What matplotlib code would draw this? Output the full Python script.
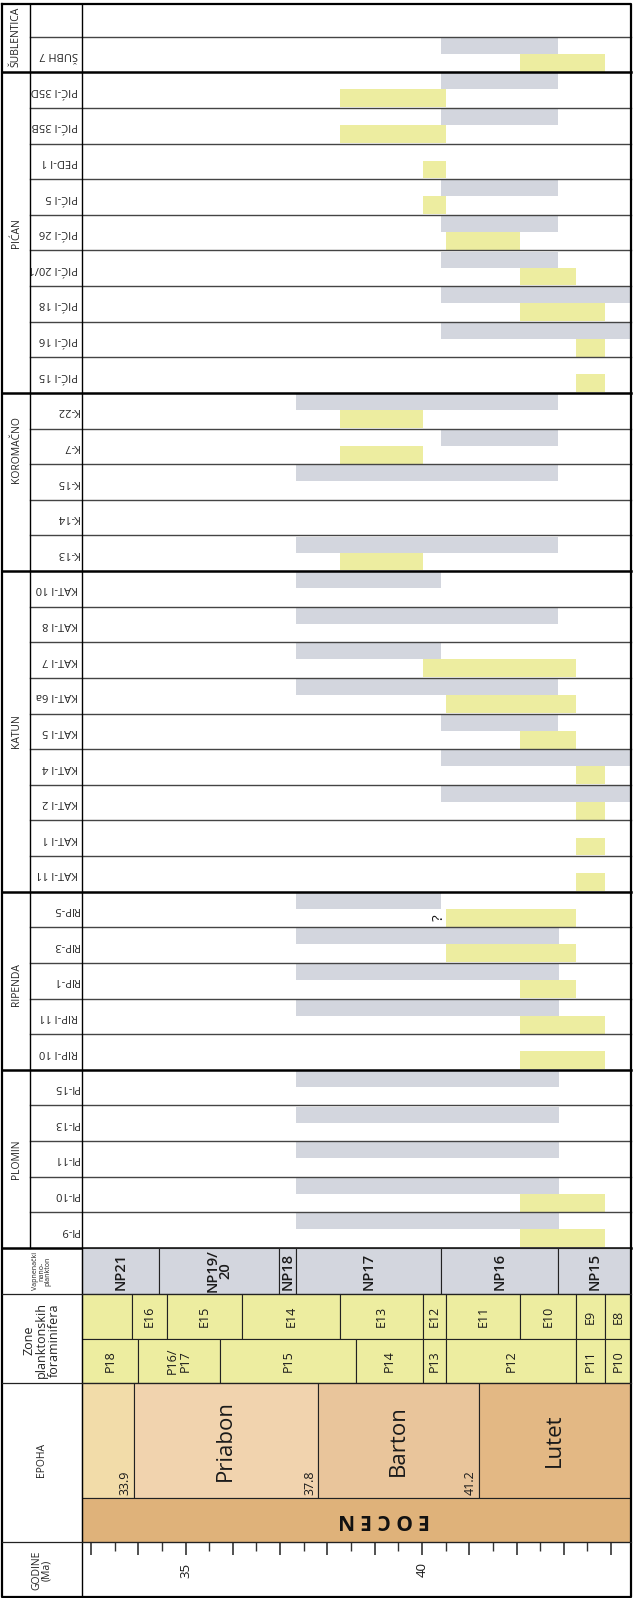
import numpy as np
import matplotlib.pyplot as plt
from matplotlib.transforms import blended_transform_factory

plt.rcParams['font.family'] = ['Open Sans', 'DejaVu Sans']

# === Data ===
groups = ['ŠUBLENTICA', 'PIĆAN', 'KOROMAČNO', 'KATUN', 'RIPENDA', 'PLOMIN']
group_sizes = [2, 9, 5, 9, 5, 5]
group_label_rows = [1.0, 6.5, 12.6, 20.5, 27.6, 32.5]

samples = ['', 'ŠUBH 7',
           'PIĆ-I 35D', 'PIĆ-I 35B', 'PED-I 1', 'PIĆ-I 5', 'PIĆ-I 26',
           'PIĆ-I 20/1', 'PIĆ-I 18', 'PIĆ-I 16', 'PIĆ-I 15',
           'K-22', 'K-7', 'K-15', 'K-14', 'K-13',
           'KAT-I 10', 'KAT-I 8', 'KAT-I 7', 'KAT-I 6a', 'KAT-I 5',
           'KAT-I 4', 'KAT-I 2', 'KAT-I 1', 'KAT-I 11',
           'RIP-5', 'RIP-3', 'RIP-1', 'RIP-I 11', 'RIP-I 10',
           'Pl-15', 'Pl-13', 'Pl-11', 'Pl-10', 'Pl-9']

END = 44.6
# calcareous nannoplankton age ranges (Ma)
nanno = [None, (40.40, 42.87),
         (40.40, 42.87), (40.40, 42.87), None, (40.40, 42.87), (40.40, 42.87),
         (40.40, 42.87), (40.40, END), (40.40, END), None,
         (37.34, 42.87), (40.40, 42.87), (37.34, 42.87), None, (37.34, 42.87),
         (37.34, 40.40), (37.34, 42.87), (37.34, 40.40), (37.34, 42.87), (40.40, 42.87),
         (40.40, END), (40.40, END), None, None,
         (37.34, 40.40), (37.34, 42.9), (37.34, 42.9), (37.34, 42.9), None,
         (37.34, 42.9), (37.34, 42.9), (37.34, 42.9), (37.34, 42.9), (37.34, 42.9)]
# planktonic foraminifera age ranges (Ma)
foram = [None, (42.08, 43.87),
         (38.27, 40.51), (38.27, 40.51), (40.02, 40.51), (40.02, 40.51), (40.51, 42.08),
         (42.08, 43.25), (42.08, 43.87), (43.25, 43.87), (43.25, 43.87),
         (38.27, 40.02), (38.27, 40.02), None, None, (38.27, 40.02),
         None, None, (40.02, 43.25), (40.51, 43.25), (42.08, 43.25),
         (43.25, 43.87), (43.25, 43.87), (43.25, 43.87), (43.25, 43.87),
         (40.51, 43.25), (40.51, 43.25), (42.08, 43.25), (42.08, 43.87), (42.08, 43.87),
         None, None, None, (42.08, 43.87), (42.08, 43.87)]
question_rows = [25]

np_zones = ['NP21', 'NP19/\n20', 'NP18', 'NP17', 'NP16', 'NP15']
np_bounds = [32.8, 34.44, 36.97, 37.34, 40.40, 42.87, END]
e_zones = ['', 'E16', 'E15', 'E14', 'E13', 'E12', 'E11', 'E10', 'E9', 'E8']
e_bounds = [32.8, 33.86, 34.61, 36.20, 38.27, 40.02, 40.51, 42.08, 43.25, 43.87, END]
p_zones = ['P18', 'P16/\nP17', 'P15', 'P14', 'P13', 'P12', 'P11', 'P10']
p_bounds = [32.8, 34.0, 35.72, 38.61, 40.02, 40.51, 43.25, 43.87, END]
stages = ['', 'Priabon', 'Barton', 'Lutet']
stage_bounds = [32.8, 33.9, 37.8, 41.2, END]
stage_colors = ['#f2dca9', '#f1d3ae', '#e9c59b', '#e3b884']

age_ticks = np.arange(33.0, 44.01, 0.5)
age_labels = [35, 40]

GRAY = '#d3d6de'
YEL = '#ededa0'
EOC = '#dfb27a'

# === Layout (pixels) ===
W, H = 633, 1598
X_L, X_C1, X_C2, X_R = 2, 30, 81.5, 631
Y_T, Y_R1, Y_ROWS, Y_B = 4, 36.7, 1248, 1597
XMIN, XMAX = 32.8, 44.42
row_h = (Y_ROWS - Y_R1) / (len(samples) - 1)
ytop = 1 - (Y_R1 - Y_T) / row_h


def fbox(x0, y0, x1, y1):
    return [x0 / W, 1 - y1 / H, (x1 - x0) / W, (y1 - y0) / H]


fig = plt.figure(figsize=(W / 100, H / 100), dpi=100)

# === Sample rows ===
ax = fig.add_axes(fbox(X_C2, Y_T, X_R, Y_ROWS))
ax.set_xlim(XMIN, XMAX)
ax.set_ylim(len(samples), ytop)
ax.axis('off')

for i, r in enumerate(nanno):
    if r:
        ax.barh(i + 0.255, r[1] - r[0], left=r[0], height=0.45, color=GRAY, lw=0)
for i, r in enumerate(foram):
    if r:
        ax.barh(i + 0.73, r[1] - r[0], left=r[0], height=0.5, color=YEL, lw=0)
for i in question_rows:
    ax.text(foram[i][0] - 0.14, i + 0.72, '?', rotation=90, ha='center', va='center',
            fontsize=11, color='#111111')

tr = blended_transform_factory(fig.transFigure, ax.transData)
bounds = np.cumsum(group_sizes)
for i in range(1, len(samples) + 1):
    if i in bounds:
        ax.plot([X_L / W, X_R / W], [i, i], transform=tr, clip_on=False, color='black', lw=1.8)
    else:
        ax.plot([X_C1 / W, X_R / W], [i, i], transform=tr, clip_on=False, color='#444444', lw=1.0)

for i, name in enumerate(samples):
    ax.text((X_C2 - 3) / W, i + 0.5, name, transform=tr, rotation=180, ha='right', va='center',
            fontsize=8, family=['Liberation Sans Narrow', 'Open Sans'], color='#222222')
for name, pos in zip(groups, group_label_rows):
    ax.text((X_L + X_C1) / 2 / W, pos, name, transform=tr, rotation=90,
            ha='center', va='center', fontsize=7.5, color='#222222')

# === Stratigraphic scale ===
bx = fig.add_axes(fbox(X_C2, Y_ROWS, X_R, Y_B))
bx.set_xlim(XMIN, XMAX)
bx.set_ylim(Y_B, Y_ROWS)
bx.axis('off')


def band(names, edges, y0, y1, colors, fs, weight='normal'):
    for k, name in enumerate(names):
        a, b = edges[k], edges[k + 1]
        c = colors[k] if isinstance(colors, list) else colors
        bx.barh((y0 + y1) / 2, b - a, left=a, height=y1 - y0, color=c,
                edgecolor='#222222', lw=0.8)
        if name:
            bx.text((max(a, XMIN) + min(b, XMAX)) / 2, (y0 + y1) / 2, name, rotation=90,
                    ha='center', va='center', ma='center', fontsize=fs, fontweight=weight,
                    linespacing=0.95, color='#1a1a1a')


band(np_zones, np_bounds, 1248, 1294, GRAY, 10.5, 'semibold')
band(e_zones, e_bounds, 1294, 1339, YEL, 9)
band(p_zones, p_bounds, 1339, 1383, YEL, 9)
band(stages, stage_bounds, 1383, 1498, stage_colors, 16)
for b in stage_bounds[1:-1]:
    bx.text(b - 0.04, 1495, f'{b:.1f}', rotation=90, ha='right', va='bottom',
            fontsize=9, color='#1a1a1a')

bx.barh(1520, END - XMIN, left=XMIN, height=44, color=EOC, edgecolor='#222222', lw=0.8)
bx.text(39.2, 1520, 'E O C E N', rotation=180, ha='center', va='center',
        fontsize=15, fontweight='bold', color='#111111')

long_t = [t for t in age_ticks if t == int(t)]
short_t = [t for t in age_ticks if t != int(t)]
bx.vlines(long_t, 1542, 1555, color='#333333', lw=1.2)
bx.vlines(short_t, 1542, 1551, color='#333333', lw=1.0)
for a in age_labels:
    bx.text(a, 1570, str(a), rotation=90, ha='center', va='center', fontsize=9.5, color='#1a1a1a')

tr2 = blended_transform_factory(fig.transFigure, bx.transData)
xh = (X_L + X_C2) / 2 / W
bx.text(xh, 1271, 'Vapnenački\nnano-\nplankton', transform=tr2, rotation=90, ha='center',
        va='center', ma='center', fontsize=5, linespacing=0.9, color='#222222')
bx.text(xh, 1340, 'Zone\nplanktonskih\nforaminifera', transform=tr2, rotation=90, ha='center',
        va='center', ma='center', fontsize=9, linespacing=0.95, color='#222222')
bx.text(xh, 1460, 'EPOHA', transform=tr2, rotation=90, ha='center', va='center',
        fontsize=7.5, color='#222222')
bx.text(xh, 1570, 'GODINE\n(Ma)', transform=tr2, rotation=90, ha='center', va='center',
        ma='center', fontsize=7.5, linespacing=0.95, color='#222222')

# === Frame ===
ov = fig.add_axes([0, 0, 1, 1])
ov.set_xlim(0, W)
ov.set_ylim(H, 0)
ov.axis('off')
ov.patch.set_alpha(0)
ov.plot([X_L, X_R, X_R, X_L, X_L], [Y_T, Y_T, Y_B, Y_B, Y_T], color='black', lw=1.6)
ov.plot([X_C1, X_C1], [Y_T, Y_ROWS], color='black', lw=1.0)
ov.plot([X_C2, X_C2], [Y_T, Y_B], color='black', lw=1.0)
for y in [1294, 1383, 1542]:
    ov.plot([X_L, X_R], [y, y], color='#222222', lw=0.9)

fig.savefig('out.png', dpi=100)
